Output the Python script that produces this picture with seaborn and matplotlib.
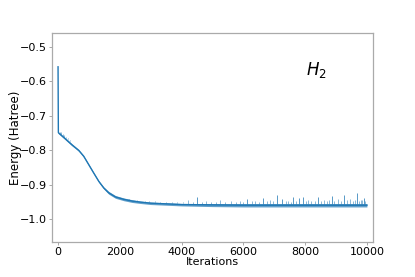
# H2 energy convergence plot
import matplotlib
matplotlib.use("Agg")
import matplotlib.pyplot as plt
import seaborn as sns

# ------------------------------------------
# Data
# ------------------------------------------

# mean trend of the energy curve
iterations = [0, 10, 20, 240, 450, 670, 830, 990, 1150, 1320, 1480, 1640,
              1860, 2130, 2400, 2670, 3000, 3500, 4000, 5000, 6000, 7000,
              8000, 9000, 10000]
energy = [-0.558, -0.748, -0.750, -0.767, -0.784, -0.800, -0.817, -0.841,
          -0.865, -0.890, -0.909, -0.923, -0.935, -0.942, -0.947, -0.950,
          -0.953, -0.955, -0.957, -0.958, -0.959, -0.959, -0.959, -0.959,
          -0.959]

# noise band around the trend (upper / lower envelope)
band_hi = [-0.558, -0.746, -0.747, -0.764, -0.781, -0.798, -0.815, -0.839,
           -0.863, -0.888, -0.906, -0.919, -0.931, -0.938, -0.943, -0.947,
           -0.950, -0.952, -0.954, -0.954, -0.954, -0.954, -0.954, -0.954,
           -0.954]
band_lo = [-0.558, -0.750, -0.752, -0.770, -0.787, -0.803, -0.820, -0.844,
           -0.868, -0.893, -0.912, -0.927, -0.939, -0.946, -0.951, -0.954,
           -0.957, -0.959, -0.961, -0.963, -0.964, -0.964, -0.964, -0.964,
           -0.964]

# clear upward spikes (iteration, base, top)
spike_iter = [4510, 6130, 6630, 7100, 7240, 7620, 7810, 7920, 8420, 8860,
              9260, 9690, 9900]
spike_base = [-0.954] * 13
spike_top = [-0.935, -0.941, -0.939, -0.928, -0.942, -0.936, -0.938,
             -0.935, -0.934, -0.931, -0.928, -0.925, -0.937]

# small fuzz on top of the band
fuzz_iter = [60, 110, 150, 200, 260, 330, 400, 2300, 2550, 2800, 2950,
             3150, 3300, 3500, 3700, 3850, 4050, 4220, 4380, 4650, 4800,
             4950, 5100, 5240, 5400, 5600, 5750, 5900, 6000, 6280, 6380,
             6500, 6750, 6850, 6950, 7380, 7450, 7530, 7700, 8020, 8100,
             8200, 8320, 8520, 8600, 8700, 8780, 8950, 9050, 9150, 9350,
             9450, 9550, 9620, 9760, 9800, 9850, 9950]
fuzz_base = [-0.752, -0.755, -0.758, -0.761, -0.764, -0.768, -0.772,
             -0.945, -0.948, -0.950, -0.951, -0.951, -0.952, -0.952,
             -0.953, -0.953, -0.953, -0.954, -0.954, -0.954, -0.954,
             -0.954, -0.954, -0.954, -0.954, -0.954, -0.954, -0.954,
             -0.954, -0.954, -0.954, -0.954, -0.954, -0.954, -0.954,
             -0.954, -0.954, -0.954, -0.954, -0.954, -0.954, -0.954,
             -0.954, -0.954, -0.954, -0.954, -0.954, -0.954, -0.954,
             -0.954, -0.954, -0.954, -0.954, -0.954, -0.954, -0.954,
             -0.954, -0.954]
fuzz_top = [-0.746, -0.748, -0.752, -0.755, -0.760, -0.764, -0.769,
            -0.942, -0.945, -0.947, -0.948, -0.948, -0.949, -0.949,
            -0.950, -0.950, -0.949, -0.945, -0.950, -0.949, -0.948,
            -0.950, -0.949, -0.945, -0.950, -0.948, -0.950, -0.947,
            -0.950, -0.948, -0.946, -0.949, -0.946, -0.944, -0.948,
            -0.947, -0.946, -0.949, -0.947, -0.948, -0.944, -0.947,
            -0.948, -0.947, -0.945, -0.948, -0.943, -0.946, -0.942,
            -0.947, -0.945, -0.940, -0.946, -0.944, -0.946, -0.943,
            -0.945, -0.946]

# ------------------------------------------
# Plot
# ------------------------------------------
line_color = "#1f77b4"

fig, ax = plt.subplots(figsize=(4.15, 2.77), dpi=100)
fig.subplots_adjust(left=0.125, right=0.899, top=0.881, bottom=0.127)

ax.fill_between(iterations, band_lo, band_hi, color=line_color,
                alpha=0.7, linewidth=0)
sns.lineplot(x=iterations, y=energy, ax=ax, color=line_color,
             linewidth=1.0, sort=False)
ax.vlines(fuzz_iter, fuzz_base, fuzz_top, color=line_color,
          linewidth=0.6, alpha=0.6)
ax.vlines(spike_iter, spike_base, spike_top, color=line_color,
          linewidth=0.7, alpha=0.75)

ax.text(0.825, 0.823, r"$H_2$", transform=ax.transAxes, fontsize=12,
        ha="center", va="center")

ax.set_xlim(-200, 10200)
ax.set_ylim(-1.065, -0.46)
ax.set_xticks([0, 2000, 4000, 6000, 8000, 10000])
ax.set_yticks([-1.0, -0.9, -0.8, -0.7, -0.6, -0.5])

ax.set_xlabel("Iterations", fontsize=8, labelpad=0.5)
ax.set_ylabel("Energy (Hatree)", fontsize=8.5, labelpad=-1.5)
ax.tick_params(labelsize=8, length=2, width=0.6, color="#999999", pad=1.5)
for spine in ax.spines.values():
    spine.set_color("#aaaaaa")
    spine.set_linewidth(0.9)

fig.savefig("out.png", dpi=100)
